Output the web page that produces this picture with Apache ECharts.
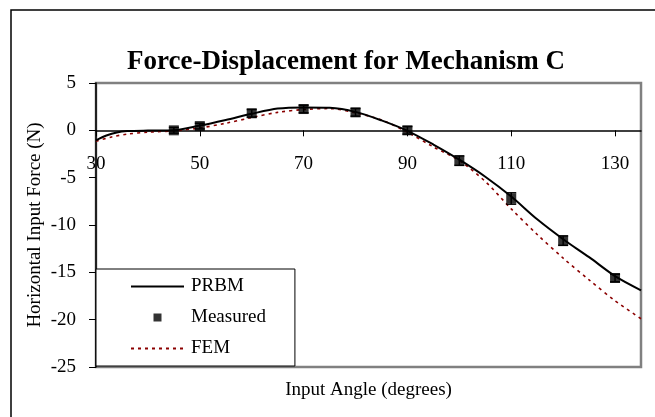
<!DOCTYPE html>
<html>
<head>
<meta charset="utf-8">
<script src="https://cdn.jsdelivr.net/npm/echarts@6/dist/echarts.min.js"></script>
<style>
  html, body { margin: 0; padding: 0; background: #fff; }
  #chart { width: 655px; height: 417px; }
</style>
</head>
<body>
<div id="chart"></div>
<script>
// angles (degrees)
const prbmAngles = [30, 32, 34, 36, 40, 45, 50, 55, 60, 65, 70, 75, 80, 85, 90, 95, 100, 105, 110, 115, 120, 125, 130, 135];
const prbmForce = [-1.05, -0.55, -0.22, -0.08, -0.03, 0, 0.5, 1.1, 1.75, 2.3, 2.42, 2.38, 1.95, 1.05, -0.05, -1.5, -3.1, -4.9, -7.0, -9.4, -11.5, -13.4, -15.4, -16.9];

const femAngles = [30, 33, 36, 40, 45, 50, 55, 60, 65, 70, 75, 80, 85, 90, 95, 100, 105, 110, 115, 120, 125, 130, 135];
const femForce = [-1.15, -0.7, -0.4, -0.2, -0.05, 0.25, 0.75, 1.35, 1.9, 2.2, 2.3, 1.85, 1.1, -0.2, -1.75, -3.2, -5.4, -8.3, -11.0, -13.5, -15.8, -18.0, -19.9];

const measAngles = [45, 50, 60, 70, 80, 90, 100, 110, 120, 130];
const measForce = [0, 0.45, 1.8, 2.25, 1.9, 0, -3.2, -7.2, -11.65, -15.6];
const measErr = [0.3, 0.3, 0.4, 0.4, 0.4, 0.4, 0.5, 0.6, 0.5, 0.4];

const xTicks = [30, 50, 70, 90, 110, 130];
const yTicks = [5, 0, -5, -10, -15, -20, -25];

const serif = '"Liberation Serif", "DejaVu Serif", serif';

const chart = echarts.init(document.getElementById('chart'));

const option = {
  animation: false,
  backgroundColor: '#fff',
  title: {
    text: 'Force-Displacement for Mechanism C',
    left: 341,
    top: 44,
    textAlign: 'center',
    textStyle: { fontFamily: serif, fontSize: 27, fontWeight: 'bold', color: '#000' },
  },
  graphic: [
    {
      type: 'rect',
      shape: { x: 11, y: 10, width: 700, height: 500 },
      style: { fill: null, stroke: '#000', lineWidth: 1.5 },
      silent: true,
      z: -1,
    },
  ],
  legend: {
    orient: 'vertical',
    left: 96,
    top: 269,
    padding: [8, 29, 8, 34],
    itemGap: 12,
    itemWidth: 53,
    itemHeight: 8,
    backgroundColor: '#fff',
    borderColor: '#000',
    borderWidth: 1,
    textStyle: { fontFamily: serif, fontSize: 19, color: '#000', padding: [0, 0, 0, 2] },
    data: [
      { name: 'PRBM', itemStyle: { color: 'rgba(0,0,0,0)', borderWidth: 0 } },
      { name: 'Measured', icon: 'path://M0 0H1V1H0Z' },
      { name: 'FEM', itemStyle: { color: 'rgba(0,0,0,0)', borderWidth: 0 } },
    ],
  },
  grid: {
    left: 96,
    right: 14,
    top: 83,
    bottom: 50,
    outerBoundsMode: 'none',
    show: true,
    borderColor: '#808080',
    borderWidth: 2.5,
    backgroundColor: '#fff',
  },
  xAxis: {
    type: 'value',
    min: 30,
    max: 135,
    interval: 20,
    name: 'Input Angle (degrees)',
    nameLocation: 'middle',
    nameGap: 14,
    nameTextStyle: { fontFamily: serif, fontSize: 19, color: '#000' },
    axisLine: { onZero: true, lineStyle: { color: '#000', width: 1.5 } },
    axisTick: { show: true, length: 6, lineStyle: { color: '#000', width: 1 } },
    axisLabel: {
      margin: -212,
      fontFamily: serif,
      fontSize: 19,
      color: '#000',
      showMaxLabel: false,
      formatter: (v) => (xTicks.includes(v) ? String(v) : ''),
    },
    splitLine: { show: false },
  },
  yAxis: {
    type: 'value',
    min: -25,
    max: 5,
    interval: 5,
    name: 'Horizontal Input Force (N)',
    nameLocation: 'middle',
    nameGap: 51,
    nameMoveOverlap: false,
    nameTextStyle: { fontFamily: serif, fontSize: 19, color: '#000' },
    axisLine: { onZero: false, lineStyle: { color: '#000', width: 1.5 } },
    axisTick: { show: true, length: 7, lineStyle: { color: '#000', width: 1 } },
    axisLabel: {
      margin: 20,
      fontFamily: serif,
      fontSize: 19,
      color: '#000',
      formatter: (v) => (yTicks.includes(v) ? String(v) : ''),
    },
    splitLine: { show: false },
  },
  series: [
    {
      name: 'FEM',
      type: 'line',
      data: femAngles.map((a, i) => [a, femForce[i]]),
      smooth: 0.3,
      symbol: 'none',
      lineStyle: { color: '#8B0000', width: 1.6, type: [3, 4] },
      itemStyle: { color: '#8B0000' },
      z: 2,
    },
    {
      name: 'PRBM',
      type: 'line',
      data: prbmAngles.map((a, i) => [a, prbmForce[i]]),
      smooth: 0.3,
      symbol: 'none',
      lineStyle: { color: '#000', width: 2 },
      itemStyle: { color: '#000' },
      z: 3,
    },
    {
      name: 'Error',
      type: 'custom',
      data: measAngles.map((a, i) => [a, measForce[i] - measErr[i], measForce[i] + measErr[i]]),
      renderItem: (params, api) => {
        const lo = api.coord([api.value(0), api.value(1)]);
        const hi = api.coord([api.value(0), api.value(2)]);
        const w = 5;
        return {
          type: 'group',
          children: [
            { type: 'line', shape: { x1: lo[0], y1: lo[1], x2: hi[0], y2: hi[1] }, style: { stroke: '#000', lineWidth: 1.5 } },
            { type: 'line', shape: { x1: lo[0] - w, y1: lo[1], x2: lo[0] + w, y2: lo[1] }, style: { stroke: '#000', lineWidth: 1.5 } },
            { type: 'line', shape: { x1: hi[0] - w, y1: hi[1], x2: hi[0] + w, y2: hi[1] }, style: { stroke: '#000', lineWidth: 1.5 } },
          ],
        };
      },
      z: 4,
    },
    {
      name: 'Measured',
      type: 'scatter',
      data: measAngles.map((a, i) => [a, measForce[i]]),
      symbol: 'rect',
      symbolSize: 10,
      itemStyle: { color: '#000' },
      z: 5,
    },
  ],
};

chart.setOption(option);
</script>
</body>
</html>
